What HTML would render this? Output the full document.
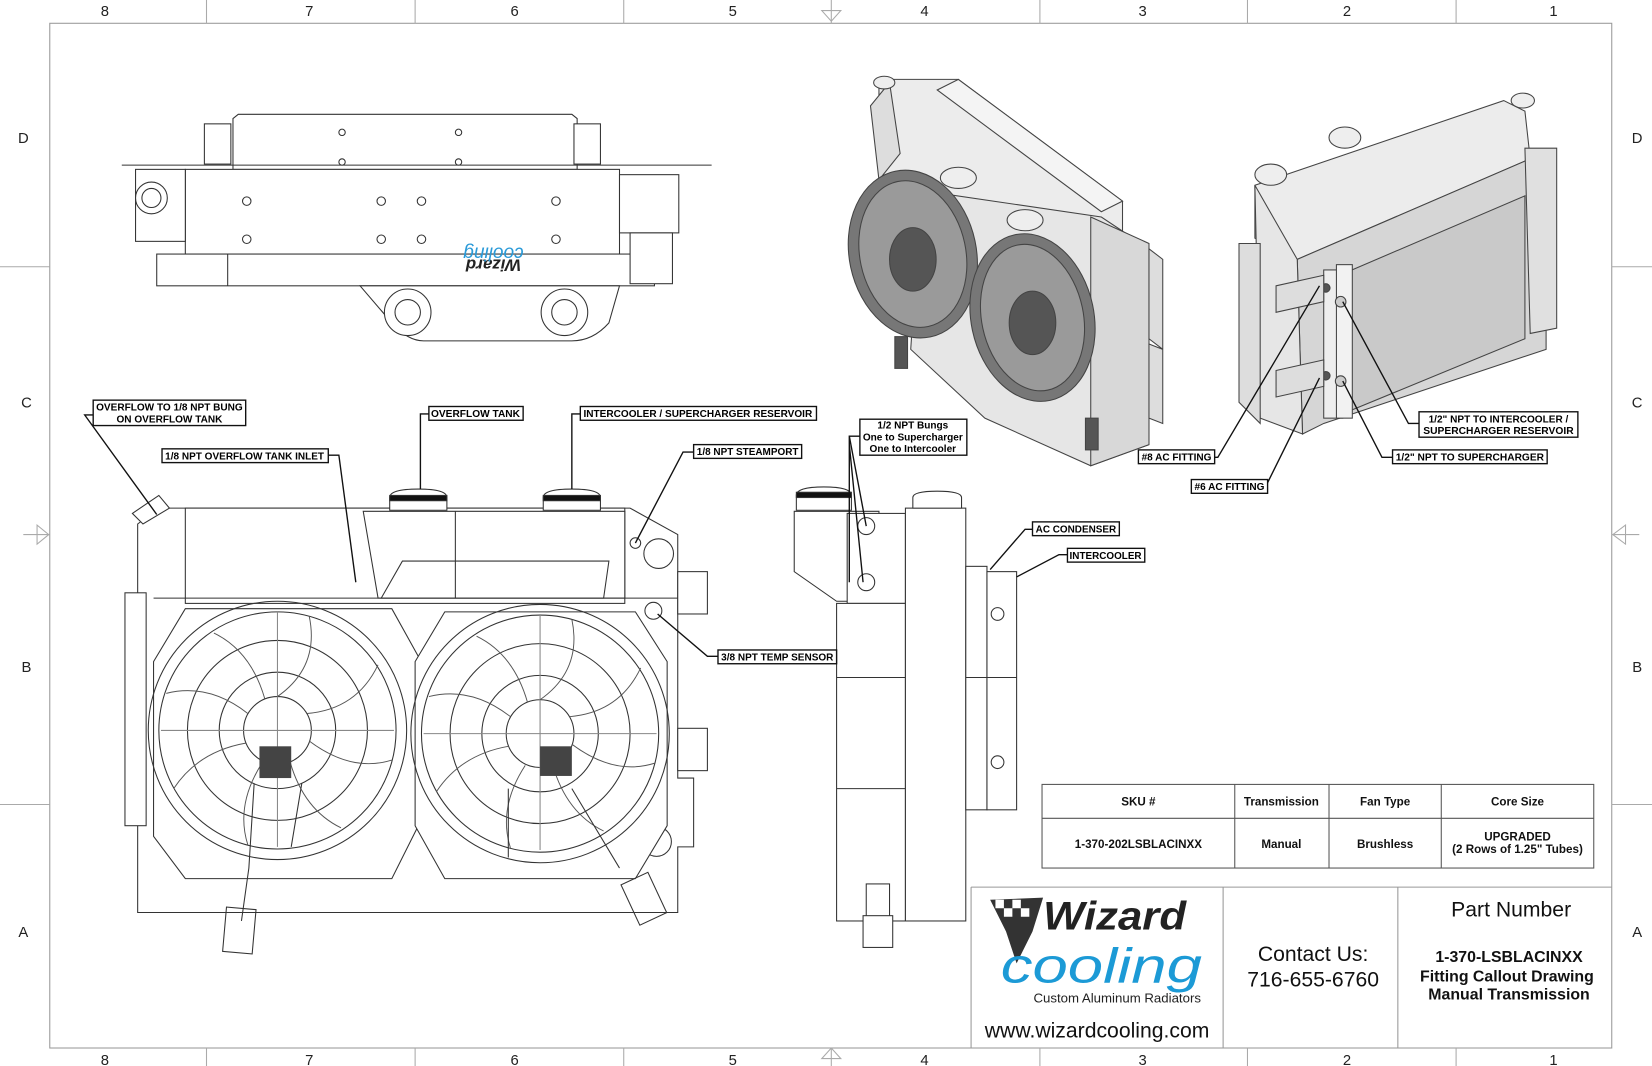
<!DOCTYPE html>
<html><head><meta charset="utf-8"><style>
html,body{margin:0;padding:0;background:#fff;}
svg{display:block;}
text{font-family:"Liberation Sans",Arial,sans-serif;}
.lb{font-size:9.5px;font-weight:bold;font-family:"Liberation Sans Narrow","Liberation Sans",sans-serif;}
</style></head><body>
<svg width="1652" height="1066" viewBox="0 0 1560 1007" preserveAspectRatio="none" xmlns="http://www.w3.org/2000/svg">
<defs>
<g id="blades" fill="none" stroke="#555" stroke-width="0.9">
<path d="M0 -32 Q40 -60 30 -108"/><path d="M28 -16 Q75 -20 95 -62"/><path d="M30 10 Q70 40 108 28"/><path d="M12 30 Q25 75 60 92"/><path d="M-14 30 Q-40 70 -28 108"/><path d="M-30 12 Q-75 20 -98 55"/><path d="M-28 -16 Q-65 -45 -105 -35"/><path d="M-12 -30 Q-25 -75 -60 -92"/>
</g>
</defs>
<rect width="1560" height="1007" fill="#fff"/>
<rect x="47" y="22" width="1475" height="968" fill="none" stroke="#999" stroke-width="1"/>
<g stroke="#aaa" stroke-width="1">
<line x1="195" y1="0" x2="195" y2="22"/><line x1="392" y1="0" x2="392" y2="22"/><line x1="589" y1="0" x2="589" y2="22"/><line x1="982" y1="0" x2="982" y2="22"/><line x1="1178" y1="0" x2="1178" y2="22"/><line x1="1375" y1="0" x2="1375" y2="22"/>
<line x1="195" y1="990" x2="195" y2="1007"/><line x1="392" y1="990" x2="392" y2="1007"/><line x1="589" y1="990" x2="589" y2="1007"/><line x1="982" y1="990" x2="982" y2="1007"/><line x1="1178" y1="990" x2="1178" y2="1007"/><line x1="1375" y1="990" x2="1375" y2="1007"/>
<line x1="0" y1="252" x2="47" y2="252"/><line x1="0" y1="760" x2="47" y2="760"/><line x1="1522" y1="252" x2="1560" y2="252"/><line x1="1522" y1="760" x2="1560" y2="760"/>
<line x1="785" y1="0" x2="785" y2="22"/><line x1="785" y1="990" x2="785" y2="1007"/><line x1="22" y1="505" x2="47" y2="505"/><line x1="1522" y1="505" x2="1548" y2="505"/>
<path d="M776 10 L794 10 L785 20Z M776 1000 L794 1000 L785 990Z M35 496 L35 514 L46 505Z M1535 496 L1535 514 L1523 505Z" fill="none"/>
</g>
<g font-size="14" fill="#222" text-anchor="middle">
<text x="99" y="15">8</text><text x="292" y="15">7</text><text x="486" y="15">6</text><text x="692" y="15">5</text><text x="873" y="15">4</text><text x="1079" y="15">3</text><text x="1272" y="15">2</text><text x="1467" y="15">1</text>
<text x="99" y="1006">8</text><text x="292" y="1006">7</text><text x="486" y="1006">6</text><text x="692" y="1006">5</text><text x="873" y="1006">4</text><text x="1079" y="1006">3</text><text x="1272" y="1006">2</text><text x="1467" y="1006">1</text>
<text x="22" y="135">D</text><text x="25" y="385">C</text><text x="25" y="635">B</text><text x="22" y="885">A</text>
<text x="1546" y="135">D</text><text x="1546" y="385">C</text><text x="1546" y="635">B</text><text x="1546" y="885">A</text>
</g>

<!-- TOP VIEW -->
<g fill="#fff" stroke="#333" stroke-width="1">
<path d="M220 112 L225 108 L540 108 L545 112 L545 160 L220 160Z"/>
<line x1="115" y1="156" x2="672" y2="156"/>
<rect x="175" y="160" width="410" height="80"/>
<rect x="148" y="240" width="470" height="30"/>
<path d="M340 270 L585 270 L575 305 Q560 322 540 322 L400 322 Q385 322 370 305 Z"/>
<circle cx="385" cy="295" r="22"/><circle cx="385" cy="295" r="12"/>
<circle cx="533" cy="295" r="22"/><circle cx="533" cy="295" r="12"/>
<rect x="128" y="160" width="47" height="68"/><circle cx="143" cy="187" r="15"/><circle cx="143" cy="187" r="9"/>
<rect x="585" y="165" width="56" height="55"/><rect x="595" y="220" width="40" height="48"/>
<rect x="193" y="117" width="25" height="38"/><rect x="542" y="117" width="25" height="38"/>
<line x1="215" y1="240" x2="215" y2="270"/>
</g>
<g fill="#fff" stroke="#333" stroke-width="1">
<circle cx="233" cy="190" r="4"/><circle cx="360" cy="190" r="4"/><circle cx="398" cy="190" r="4"/><circle cx="525" cy="190" r="4"/>
<circle cx="233" cy="226" r="4"/><circle cx="360" cy="226" r="4"/><circle cx="398" cy="226" r="4"/><circle cx="525" cy="226" r="4"/>
<circle cx="323" cy="125" r="3"/><circle cx="433" cy="125" r="3"/><circle cx="323" cy="153" r="3"/><circle cx="433" cy="153" r="3"/>
</g>
<text x="466" y="255" font-size="16" font-weight="bold" fill="#222" transform="rotate(180 466 250)" text-anchor="middle" font-style="italic">Wizard</text>
<text x="466" y="242" font-size="18" fill="#2a9ad8" transform="rotate(180 466 238)" text-anchor="middle" font-style="italic">cooling</text>

<!-- FRONT VIEW -->
<g fill="#fff" stroke="#333" stroke-width="1">
<path d="M130 495 L150 480 L595 480 L640 505 L640 735 L655 735 L655 800 L640 800 L640 862 L130 862 Z"/>
<rect x="118" y="560" width="20" height="220"/>
<rect x="640" y="540" width="28" height="40"/><rect x="640" y="688" width="28" height="40"/>
<rect x="175" y="480" width="415" height="90"/>
<path d="M343 483 L590 483 L590 565 L357 565 Z"/>
<path d="M380 530 L575 530 L570 565 L360 565Z"/>
<line x1="430" y1="483" x2="430" y2="565"/>
<line x1="145" y1="565" x2="640" y2="565"/>
<path d="M368 470 Q368 462 395 462 Q422 462 422 470 L422 482 L368 482Z"/>
<rect x="368" y="468" width="54" height="5" fill="#111"/>
<path d="M513 470 Q513 462 540 462 Q567 462 567 470 L567 482 L513 482Z"/>
<rect x="513" y="468" width="54" height="5" fill="#111"/>
<path d="M125 485 L150 468 L160 480 L135 495Z"/>
<circle cx="600" cy="513" r="5"/><circle cx="622" cy="523" r="14"/><circle cx="617" cy="577" r="8"/>
<circle cx="620" cy="795" r="14"/>
<path d="M145 625 L175 575 L370 575 L395 620 L395 780 L370 830 L175 830 L145 790Z"/>
<path d="M392 625 L420 578 L600 578 L630 625 L630 780 L600 830 L420 830 L392 780Z"/>
</g>
<g fill="none" stroke="#333" stroke-width="1">
<circle cx="262" cy="690" r="122"/><circle cx="262" cy="690" r="112"/><circle cx="262" cy="690" r="85"/><circle cx="262" cy="690" r="55"/><circle cx="262" cy="690" r="32"/>
<circle cx="510" cy="693" r="122"/><circle cx="510" cy="693" r="112"/><circle cx="510" cy="693" r="85"/><circle cx="510" cy="693" r="55"/><circle cx="510" cy="693" r="32"/>
<path d="M262 578 L262 800 M152 690 L372 690 M510 581 L510 803 M400 693 L620 693" stroke="#888"/>
<use href="#blades" x="262" y="690"/><use href="#blades" x="510" y="693"/>
<path d="M240 740 L235 820 L228 870 M285 740 L275 800 M480 745 L480 810 M540 745 L585 820" stroke="#333"/>
<rect x="212" y="858" width="28" height="42" transform="rotate(5 226 879)"/>
<rect x="594" y="828" width="28" height="42" transform="rotate(-25 608 849)"/>
</g>
<rect x="245" y="705" width="30" height="30" fill="#444"/><rect x="510" y="705" width="30" height="28" fill="#444"/>

<!-- SIDE VIEW -->
<g fill="#fff" stroke="#333" stroke-width="1">
<path d="M752 468 Q752 460 778 460 Q804 460 804 468 L804 482 L752 482Z"/><rect x="752" y="465" width="52" height="5" fill="#111"/>
<path d="M750 483 L830 483 L830 568 L790 568 L750 540Z"/>
<rect x="800" y="485" width="55" height="85"/>
<circle cx="818" cy="497" r="8"/><circle cx="818" cy="550" r="8"/>
<rect x="790" y="570" width="65" height="300"/>
<rect x="855" y="480" width="57" height="390"/>
<rect x="912" y="535" width="20" height="230"/>
<rect x="932" y="540" width="28" height="225"/>
<circle cx="942" cy="580" r="6"/><circle cx="942" cy="720" r="6"/>
<path d="M862 470 Q862 464 885 464 Q908 464 908 470 L908 480 L862 480Z"/>
<line x1="790" y1="640" x2="855" y2="640"/><line x1="790" y1="745" x2="855" y2="745"/><line x1="912" y1="640" x2="960" y2="640"/>
<rect x="818" y="835" width="22" height="48"/><rect x="815" y="865" width="28" height="30"/>
</g>

<!-- ISO LEFT -->
<g stroke="#444" stroke-width="1">
<path d="M830 75 L905 75 L1060 190 L1060 260 L915 255 L830 160Z" fill="#ececec"/>
<path d="M905 75 L1060 190 L1040 200 L885 85Z" fill="#f4f4f4"/>
<path d="M822 100 L840 78 L850 145 L830 170Z" fill="#ddd"/>
<path d="M870 180 L1040 205 L1085 235 L1085 420 L1030 440 L930 395 L860 330Z" fill="#e6e6e6"/>
<path d="M1030 205 L1085 230 L1085 420 L1030 440Z" fill="#d8d8d8"/>
<path d="M1085 235 L1098 245 L1098 330 L1085 320Z M1085 325 L1098 330 L1098 400 L1085 395Z" fill="#ddd"/>
<ellipse cx="862" cy="240" rx="60" ry="80" transform="rotate(-12 862 240)" fill="#777"/>
<ellipse cx="862" cy="240" rx="50" ry="70" transform="rotate(-12 862 240)" fill="#9a9a9a"/>
<ellipse cx="862" cy="245" rx="22" ry="30" fill="#555"/>
<ellipse cx="975" cy="300" rx="58" ry="80" transform="rotate(-12 975 300)" fill="#777"/>
<ellipse cx="975" cy="300" rx="48" ry="70" transform="rotate(-12 975 300)" fill="#9a9a9a"/>
<ellipse cx="975" cy="305" rx="22" ry="30" fill="#555"/>
<ellipse cx="905" cy="168" rx="17" ry="10" fill="#eee"/><ellipse cx="968" cy="208" rx="17" ry="10" fill="#eee"/><ellipse cx="835" cy="78" rx="10" ry="6" fill="#eee"/>
<rect x="845" y="318" width="12" height="30" fill="#555"/><rect x="1025" y="395" width="12" height="30" fill="#555"/>
</g>
<!-- ISO RIGHT -->
<g stroke="#444" stroke-width="1">
<path d="M1185 175 L1420 95 L1440 105 L1445 150 L1225 245 L1185 225Z" fill="#ececec"/>
<path d="M1225 245 L1445 150 L1460 160 L1460 330 L1250 400 L1230 410Z" fill="#d6d6d6"/>
<path d="M1265 260 L1440 185 L1440 320 L1270 390Z" fill="#c9c9c9"/>
<path d="M1185 175 L1225 245 L1230 410 L1190 395Z" fill="#e6e6e6"/>
<path d="M1170 230 L1190 230 L1190 400 L1170 380Z" fill="#ddd"/>
<path d="M1440 140 L1470 140 L1470 310 L1445 315Z" fill="#e0e0e0"/>
<rect x="1250" y="255" width="18" height="140" fill="#eee"/>
<rect x="1262" y="250" width="15" height="145" fill="#f2f2f2"/>
<ellipse cx="1270" cy="130" rx="15" ry="10" fill="#eee"/><ellipse cx="1200" cy="165" rx="15" ry="10" fill="#eee"/><ellipse cx="1438" cy="95" rx="11" ry="7" fill="#eee"/>
<circle cx="1252" cy="272" r="4" fill="#555"/><circle cx="1266" cy="285" r="5" fill="#ccc"/><circle cx="1252" cy="355" r="4" fill="#555"/><circle cx="1266" cy="360" r="5" fill="#ccc"/>
<path d="M1205 270 L1250 260 L1250 285 L1205 295Z M1205 350 L1250 340 L1250 365 L1205 375Z" fill="#ddd"/>
</g>

<!-- CALLOUTS -->
<g fill="none" stroke="#111" stroke-width="1.3">
<path d="M88 392 L80 392 L148 486"/>
<path d="M310 430 L320 430 L336 550"/>
<path d="M405 391 L397 391 L397 462"/>
<path d="M548 391 L540 391 L540 462"/>
<path d="M655 427 L645 427 L600 513"/>
<path d="M678 620 L668 620 L621 580"/>
<path d="M812 412 L802 412 L802 550 M802 412 L818 497 M802 420 L815 550"/>
<path d="M975 500 L968 500 L935 538"/>
<path d="M1008 524 L1000 524 L960 545"/>
<path d="M1075 432 L1150 432 L1246 270"/>
<path d="M1125 460 L1195 460 L1246 357"/>
<path d="M1340 400 L1330 400 L1268 285"/>
<path d="M1315 432 L1305 432 L1268 360"/>
</g>
<g fill="#fff" stroke="#111" stroke-width="1.3">
<rect x="88" y="378" width="144" height="24"/>
<rect x="153" y="424" width="157" height="13"/>
<rect x="405" y="384" width="89" height="13"/>
<rect x="548" y="384" width="223" height="13"/>
<rect x="655" y="420" width="102" height="13"/>
<rect x="678" y="614" width="112" height="13"/>
<rect x="812" y="396" width="101" height="34"/>
<rect x="975" y="493" width="82" height="13"/>
<rect x="1008" y="518" width="73" height="13"/>
<rect x="1075" y="425" width="72" height="13"/>
<rect x="1125" y="453" width="72" height="13"/>
<rect x="1340" y="389" width="150" height="24"/>
<rect x="1315" y="425" width="146" height="13"/>
</g>
<g class="lb" fill="#000" text-anchor="middle">
<text x="160" y="388">OVERFLOW TO 1/8 NPT BUNG</text><text x="160" y="399">ON OVERFLOW TANK</text>
<text x="231" y="434" textLength="150" lengthAdjust="spacingAndGlyphs">1/8 NPT OVERFLOW TANK INLET</text>
<text x="449" y="394" textLength="84" lengthAdjust="spacingAndGlyphs">OVERFLOW TANK</text>
<text x="659" y="394" textLength="216" lengthAdjust="spacingAndGlyphs">INTERCOOLER / SUPERCHARGER RESERVOIR</text>
<text x="706" y="430" textLength="96" lengthAdjust="spacingAndGlyphs">1/8 NPT STEAMPORT</text>
<text x="734" y="624" textLength="106" lengthAdjust="spacingAndGlyphs">3/8 NPT TEMP SENSOR</text>
<text x="862" y="405">1/2 NPT Bungs</text><text x="862" y="416">One to Supercharger</text><text x="862" y="427">One to Intercooler</text>
<text x="1016" y="503" textLength="76" lengthAdjust="spacingAndGlyphs">AC CONDENSER</text>
<text x="1044" y="528" textLength="68" lengthAdjust="spacingAndGlyphs">INTERCOOLER</text>
<text x="1111" y="435" textLength="66" lengthAdjust="spacingAndGlyphs">#8 AC FITTING</text>
<text x="1161" y="463" textLength="66" lengthAdjust="spacingAndGlyphs">#6 AC FITTING</text>
<text x="1415" y="399">1/2" NPT TO INTERCOOLER /</text><text x="1415" y="410" textLength="142" lengthAdjust="spacingAndGlyphs">SUPERCHARGER RESERVOIR</text>
<text x="1388" y="435" textLength="140" lengthAdjust="spacingAndGlyphs">1/2" NPT TO SUPERCHARGER</text>
</g>

<!-- TABLE -->
<g fill="none" stroke="#555" stroke-width="1">
<rect x="984" y="741" width="521" height="79"/>
<line x1="984" y1="773" x2="1505" y2="773"/>
<line x1="1166" y1="741" x2="1166" y2="820"/><line x1="1255" y1="741" x2="1255" y2="820"/><line x1="1361" y1="741" x2="1361" y2="820"/>
</g>
<g font-size="11" font-weight="bold" text-anchor="middle" fill="#111">
<text x="1075" y="761">SKU #</text><text x="1210" y="761">Transmission</text><text x="1308" y="761">Fan Type</text><text x="1433" y="761">Core Size</text>
<text x="1075" y="801">1-370-202LSBLACINXX</text><text x="1210" y="801">Manual</text><text x="1308" y="801">Brushless</text>
<text x="1433" y="794">UPGRADED</text><text x="1433" y="806">(2 Rows of 1.25" Tubes)</text>
</g>
<!-- TITLE BLOCK -->
<g stroke="#999" stroke-width="1" fill="none">
<line x1="917" y1="838" x2="1522" y2="838"/><line x1="917" y1="838" x2="917" y2="990"/><line x1="1155" y1="838" x2="1155" y2="990"/><line x1="1320" y1="838" x2="1320" y2="990"/>
</g>
<path d="M935 850 L985 848 L975 880 L960 910 L950 880Z" fill="#333"/>
<path d="M940 850 l8 0 l0 8 l-8 0z M956 850 l8 0 l0 8 l-8 0z M948 858 l8 0 l0 8 l-8 0z M964 858 l8 0 l0 8 l-8 0z" fill="#fff"/>
<text x="985" y="878" font-size="38" font-weight="bold" fill="#222" font-style="italic" textLength="135" lengthAdjust="spacingAndGlyphs">Wizard</text>
<text x="945" y="928" font-size="46" fill="#1c9ad6" font-style="italic" font-family="Liberation Serif,serif" textLength="190" lengthAdjust="spacingAndGlyphs">cooling</text>
<text x="1055" y="947" font-size="12.5" text-anchor="middle" fill="#222">Custom Aluminum Radiators</text>
<text x="1036" y="980" font-size="20" text-anchor="middle" fill="#111">www.wizardcooling.com</text>
<text x="1240" y="908" font-size="20" text-anchor="middle" fill="#111">Contact Us:</text>
<text x="1240" y="932" font-size="20" text-anchor="middle" fill="#111">716-655-6760</text>
<text x="1427" y="866" font-size="20" text-anchor="middle" fill="#111">Part Number</text>
<g font-size="15" font-weight="bold" text-anchor="middle" fill="#111">
<text x="1425" y="909">1-370-LSBLACINXX</text><text x="1423" y="927">Fitting Callout Drawing</text><text x="1425" y="944">Manual Transmission</text>
</g>
</svg>
</body></html>
